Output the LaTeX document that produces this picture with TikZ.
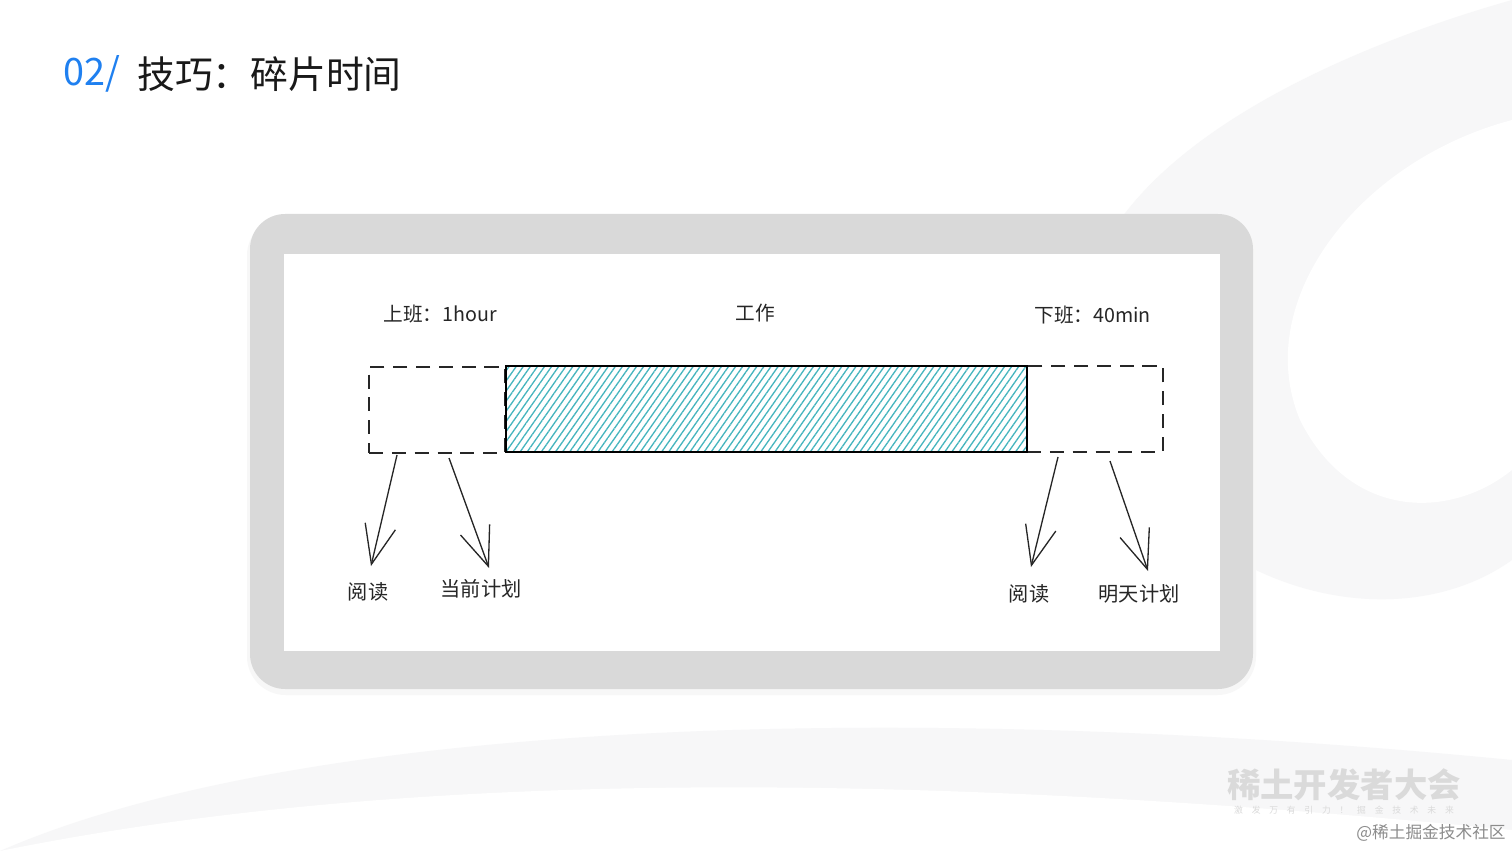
\documentclass[tikz,border=0pt]{standalone}
\usepackage{fontspec}
\setmainfont{Noto Sans CJK SC}
\usetikzlibrary{arrows.meta,patterns.meta,calc}
\definecolor{titleblue}{HTML}{1F80F0}
\definecolor{framegray}{HTML}{D9D9D9}
\definecolor{hatchteal}{HTML}{45B5BE}
\definecolor{wmgray}{HTML}{DADADA}
\definecolor{bgswirl}{HTML}{F7F7F8}
\begin{document}
\begin{tikzpicture}[x=0.02cm,y=-0.02cm,
  dashbox/.style={draw=black!85, line width=1.1pt, dash pattern=on 8pt off 5pt, minimum width=2.72cm, minimum height=1.72cm, inner sep=0pt},
  workbar/.style={draw=black, line width=1.3pt, pattern={Lines[angle=55,distance=3.3pt,line width=0.75pt]}, pattern color=hatchteal, minimum width=10.42cm, minimum height=1.72cm, inner sep=0pt},
  toplabel/.style={font=\fontsize{11.2pt}{13pt}\selectfont, text=black!85, inner sep=0pt},
  botlabel/.style={font=\fontsize{11.5pt}{13pt}\selectfont, text=black!85, inner sep=0pt},
  arr/.style={line width=0.75pt, draw=black!85, -{Straight Barb[length=0.78cm,width=0.62cm,line width=0.75pt]}},
]
\useasboundingbox (0,0) rectangle (1512,851);
% background
\fill[white] (0,0) rectangle (1512,851);
\fill[bgswirl] (1512,0) .. controls (1300,60) and (1000,200) .. (1100,420) .. controls (1200,600) and (1400,640) .. (1512,560) -- cycle;
\fill[white] (1512,120) .. controls (1360,160) and (1250,300) .. (1300,420) .. controls (1350,520) and (1450,520) .. (1512,470) -- cycle;
\fill[bgswirl] (0,851) .. controls (300,720) and (900,700) .. (1512,760) -- (1512,851) -- cycle;
\fill[white] (0,851) .. controls (400,770) and (900,770) .. (1512,830) -- (1512,851) -- cycle;
% title
\node[anchor=west, inner sep=0pt, text=titleblue, font=\fontsize{21.5pt}{24pt}\selectfont] (num) at (63,74) {02/};
\node[anchor=west, inner sep=0pt, text=black!90, font=\fontsize{21.5pt}{24pt}\selectfont] (title) at (137,74) {技巧：碎片时间};
% frame
\fill[black!3, rounded corners=22] (247,217) rectangle (1256,695);
\fill[framegray, rounded corners=20] (250,214) rectangle (1253,689);
\fill[white] (284,254) rectangle (1220,651);
% labels top
\node[toplabel, anchor=west] (up) at (383,314) {上班：1hour};
\node[toplabel] (work) at (755,313) {工作};
\node[toplabel, anchor=west] (down) at (1034,315) {下班：40min};
% boxes
\node[dashbox] (lbox) at (437,410) {};
\node[dashbox] (rbox) at (1095,409) {};
\node[workbar] (bar) at (766.5,409) {};
% bottom labels
\node[botlabel] (read1) at (368,592) {阅读};
\node[botlabel] (plan1) at (481,589) {当前计划};
\node[botlabel] (read2) at (1029,594) {阅读};
\node[botlabel] (plan2) at (1139,594) {明天计划};
% arrow ends
\coordinate (a1s) at (397,455); \coordinate (a1e) at (371,566);
\coordinate (a2s) at (449,458); \coordinate (a2e) at (489,568);
\coordinate (a3s) at (1058,457); \coordinate (a3e) at (1031,567);
\coordinate (a4s) at (1110,461); \coordinate (a4e) at (1148,571);
\draw[arr] (a1s) -- (a1e);
\draw[arr] (a2s) -- (a2e);
\draw[arr] (a3s) -- (a3e);
\draw[arr] (a4s) -- (a4e);
% watermark
\node[inner sep=0pt, text=wmgray, font=\fontsize{19pt}{21pt}\selectfont\bfseries] (wm1) at (1344,785) {稀土开发者大会};
\node[inner sep=0pt, text=wmgray, font=\fontsize{5pt}{6pt}\selectfont] (wm2) at (1344,810) {激\quad 发\quad 万\quad 有\quad 引\quad 力\quad ！\quad 掘\quad 金\quad 技\quad 术\quad 未\quad 来};
\node[inner sep=0pt, anchor=east, text=black!45, font=\fontsize{9.5pt}{11pt}\selectfont] (wm3) at (1506,833) {@稀土掘金技术社区};
\end{tikzpicture}
\end{document}
